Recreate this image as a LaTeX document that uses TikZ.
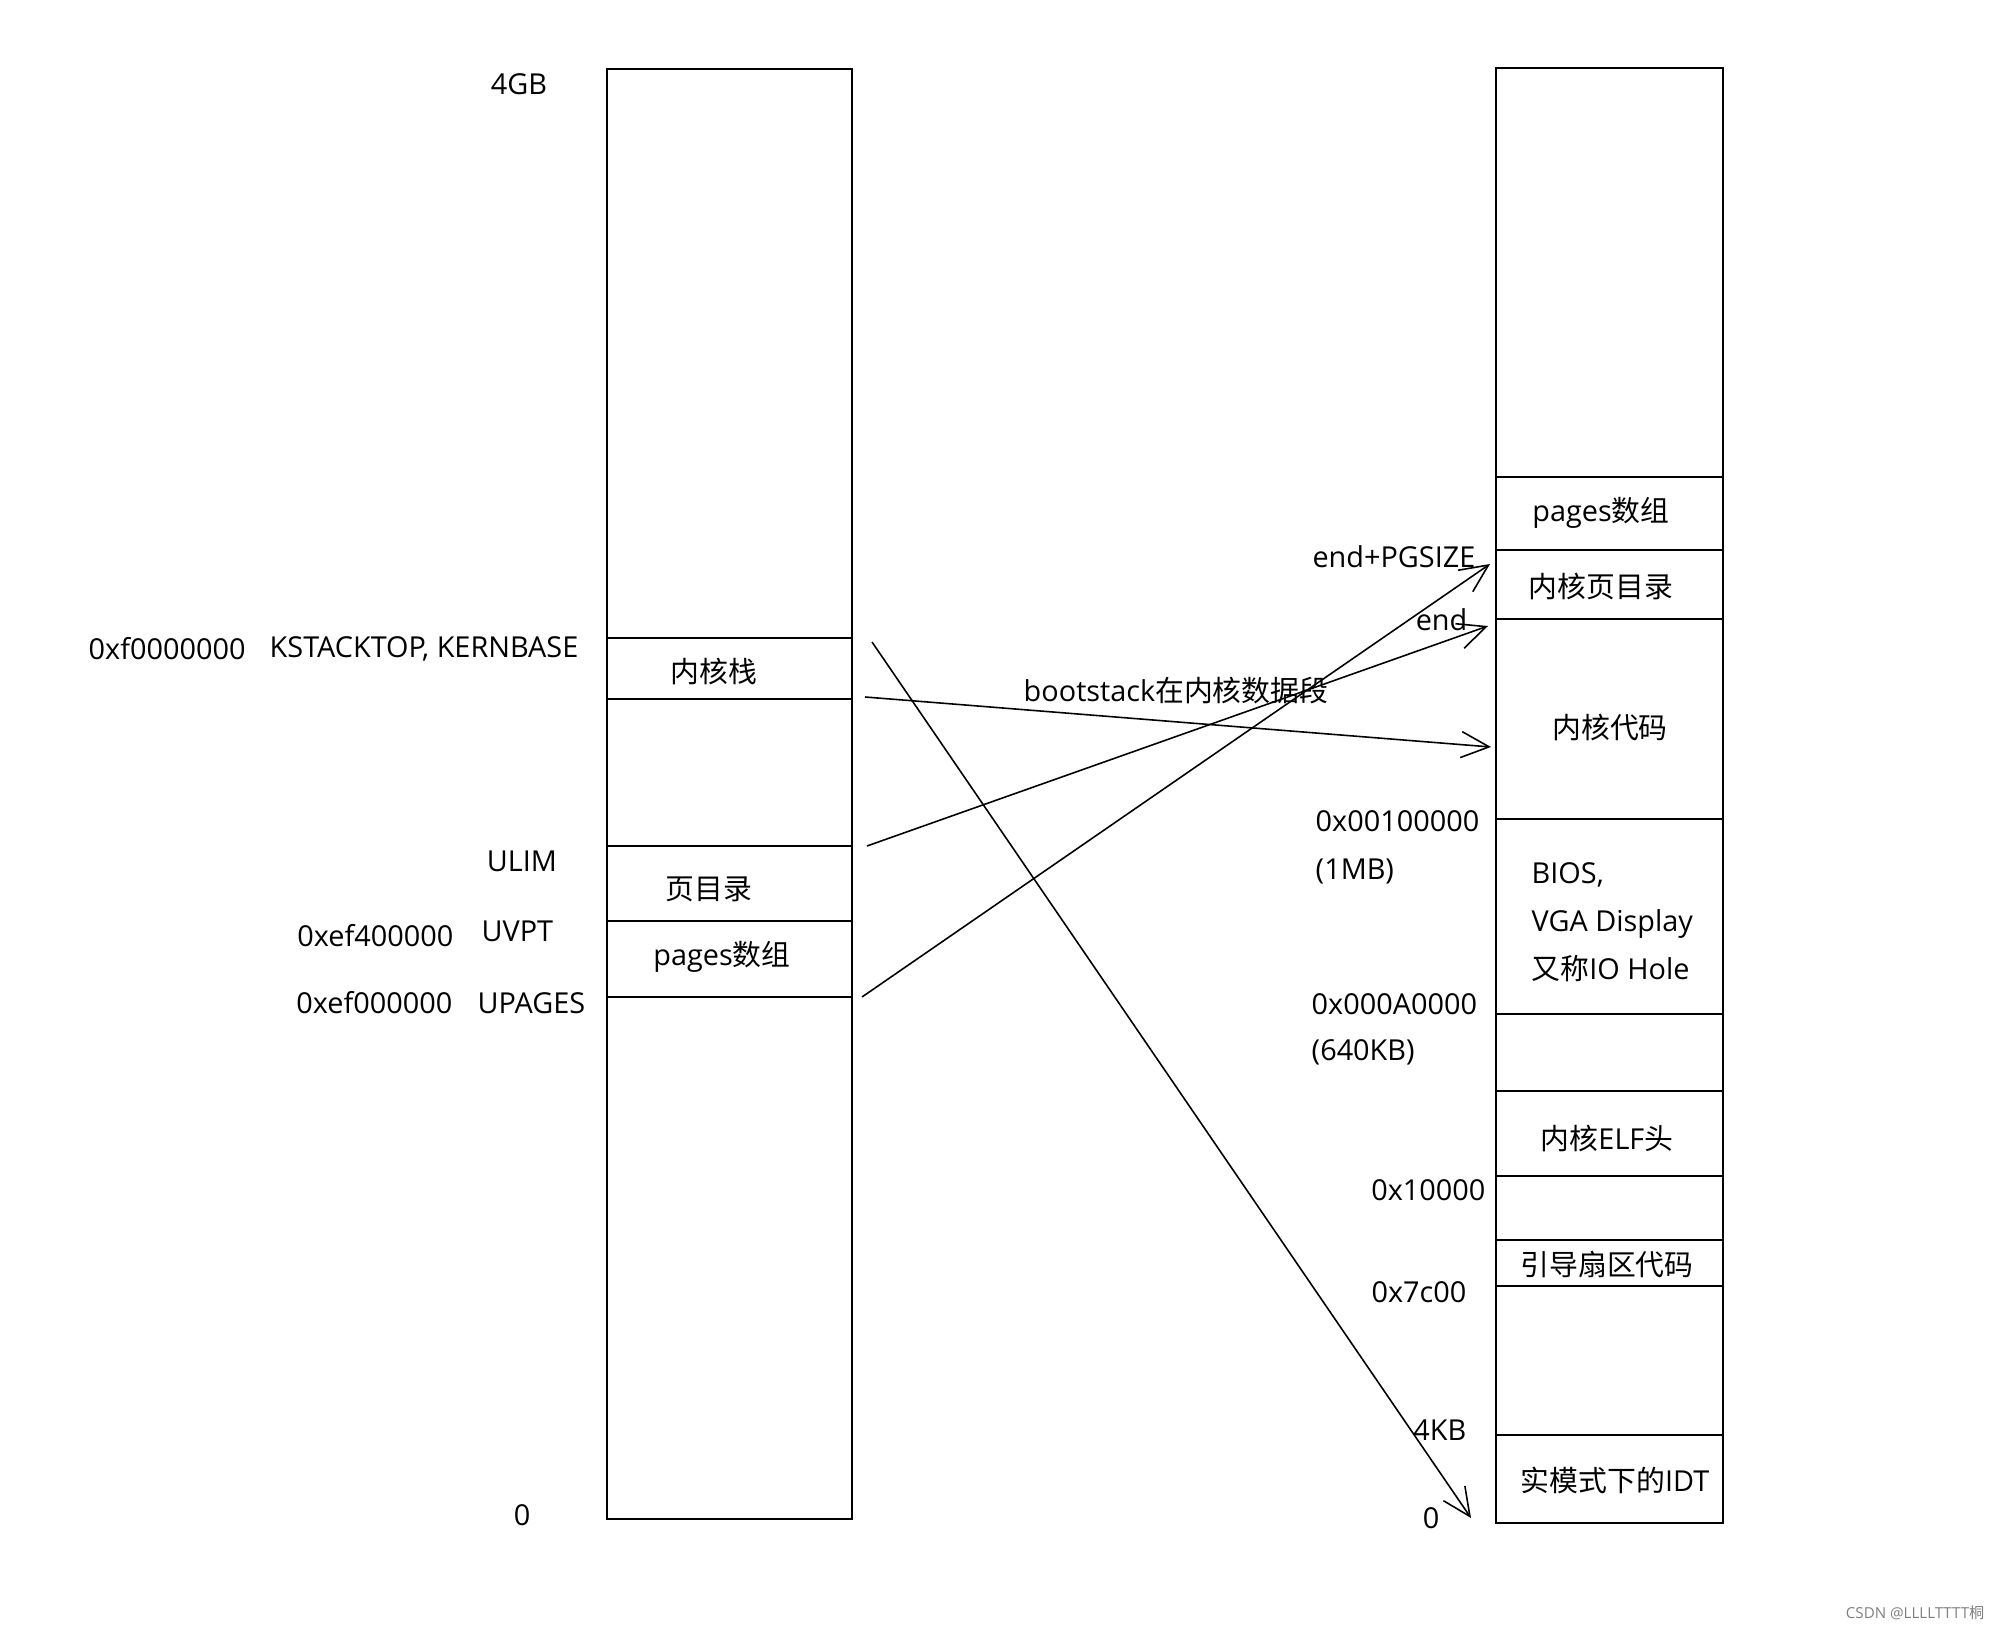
\documentclass[tikz,border=0pt]{standalone}
\usepackage{fontspec}
\setmainfont{Open Sans}
\newfontfamily\cjk{Noto Sans CJK SC}
\usetikzlibrary{arrows.meta}

\begin{document}
\begin{tikzpicture}[
  x=0.01cm, y=-0.01cm,
  every node/.style={inner sep=0pt, font=\fontsize{8.2}{13.7}\selectfont},
  wall/.style={line width=0.7pt},
  arr/.style={-{Straight Barb[length=2.8mm,width=2.6mm]}, line width=0.45pt}
]
\useasboundingbox (0,0) rectangle (2000,1631);

% virtual memory (left)
\draw[wall] (607,69) rectangle (852,1519);
\foreach \y in {638,699,846,921,997}
  \draw[wall] (607,\y) -- (852,\y);

\node (vtop) at (519,84) {4GB};
\node (vzero) at (522,1515) {0};
\node[anchor=west] (kbaseaddr) at (88,649) {0xf0000000};
\node (kbase) at (424,649) {KSTACKTOP, KERNBASE};
\node (ulim) at (522,861) {ULIM};
\node[anchor=east] (uvptaddr) at (454,936) {0xef400000};
\node[anchor=west] (uvpt) at (481,931) {UVPT};
\node[anchor=east] (upagesaddr) at (453,1003) {0xef000000};
\node[anchor=west] (upages) at (477,1003) {UPAGES};

\node (kstack) at (714,672) {\cjk 内核栈};
\node (vpgdir) at (709,889) {\cjk 页目录};
\node (vpages) at (722,957) {pages{\cjk 数组}};

% physical memory (right)
\draw[wall] (1496,68) rectangle (1723,1523);
\foreach \y in {477,550,619,819,1014,1091,1176,1240,1286,1435}
  \draw[wall] (1496,\y) -- (1723,\y);

\node (ppages) at (1601,513) {pages{\cjk 数组}};
\node (ppgdir) at (1601,587) {\cjk 内核页目录};
\node (kcode) at (1610,728) {\cjk 内核代码};
\node[anchor=west, align=left] (iohole) at (1531,922) {BIOS,\\VGA Display\\{\cjk 又称}IO Hole};
\node (elfhdr) at (1607,1139) {{\cjk 内核}ELF{\cjk 头}};
\node (bootsec) at (1607,1265) {\cjk 引导扇区代码};
\node (realidt) at (1615,1480) {{\cjk 实模式下的}IDT};

\node[anchor=east] (endpg) at (1476,557) {end+PGSIZE};
\node[anchor=east] (endlbl) at (1468,620) {end};
\node[anchor=west] (mb) at (1315,821) {0x00100000};
\node[anchor=west] (mbnote) at (1315,871) {(1MB)};
\node[anchor=west] (kb) at (1311,1004) {0x000A0000};
\node[anchor=west] (kbnote) at (1311,1052) {(640KB)};
\node[anchor=east] (elfaddr) at (1486,1190) {0x10000};
\node[anchor=east] (bootaddr) at (1467,1292) {0x7c00};
\node[anchor=east] (fourkb) at (1467,1430) {4KB};
\node (pzero) at (1431,1518) {0};

\node (bootstack) at (1176,691) {bootstack{\cjk 在内核数据段}};

% mapping arrows
\coordinate (kstacktop) at (872,642);
\coordinate (kstackbot) at (865,697);
\coordinate (ulimpt) at (867,846);
\coordinate (upagespt) at (862,997);
\coordinate (zeropt) at (1471,1518);
\coordinate (kcodept) at (1491,747);
\coordinate (endpt) at (1488,626);
\coordinate (endpgpt) at (1490,564);

\draw[arr] (kstacktop) -- (zeropt);
\draw[arr] (kstackbot) -- (kcodept);
\draw[arr] (ulimpt) -- (endpt);
\draw[arr] (upagespt) -- (endpgpt);

\node[anchor=east, text=gray, font=\fontsize{4.3}{5}\selectfont] (mark) at (1985,1613) {CSDN @LLLLTTTT{\cjk 桐}};
\end{tikzpicture}
\end{document}
